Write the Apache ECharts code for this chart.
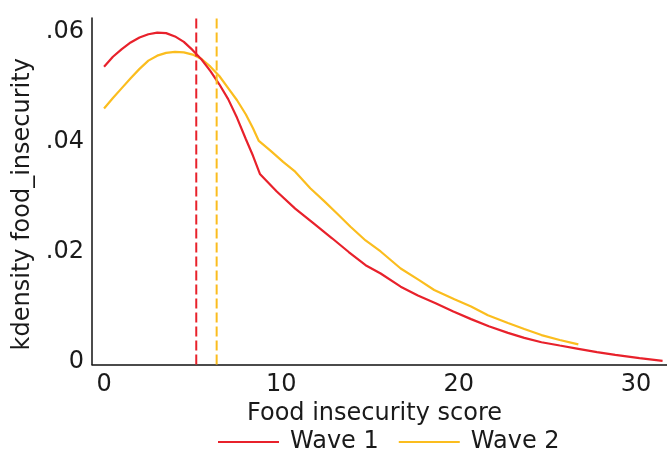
<!DOCTYPE html>
<html><head><meta charset="utf-8">
<script src="https://cdn.jsdelivr.net/npm/echarts@6/dist/echarts.min.js"></script>
<style>html,body{margin:0;padding:0;background:#fff}#c{width:667px;height:452px}</style>
</head><body><div id="c"></div>
<script>
const wave1X = [0, 0.5, 1, 1.5, 2, 2.5, 3, 3.5, 4, 4.5, 5, 5.5, 6, 6.5, 7, 7.5, 8, 8.4, 8.79, 9.74, 10.78, 11.82, 12.86, 13.8, 14.75, 15.6, 16.73, 17.7, 18.7, 19.7, 20.7, 21.7, 22.78, 23.7, 24.67, 25.7, 26.75, 27.8, 28.83, 30.2, 31.5];
const wave1Y = [0.0537, 0.0555, 0.0569, 0.0581, 0.0590, 0.0596, 0.0599, 0.0598, 0.0592, 0.0582, 0.0567, 0.0550, 0.0529, 0.0505, 0.0478, 0.0444, 0.0405, 0.0375, 0.0342, 0.0310, 0.0279, 0.0252, 0.0225, 0.0200, 0.0176, 0.0161, 0.0137, 0.0121, 0.0107, 0.0092, 0.0078, 0.0065, 0.0053, 0.0044, 0.0036, 0.0030, 0.0024, 0.0018, 0.0013, 0.0007, 0.0002];
const wave2X = [0, 0.5, 1, 1.5, 2, 2.5, 3, 3.5, 4, 4.5, 5, 5.5, 6, 6.5, 7, 7.5, 8, 8.4, 8.73, 9.4, 10.1, 10.78, 11.63, 12.4, 13.14, 13.9, 14.75, 15.6, 16.73, 17.77, 18.62, 19.76, 20.7, 21.65, 22.78, 23.7, 24.67, 25.7, 26.75];
const wave2Y = [0.0461, 0.0480, 0.0498, 0.0516, 0.0533, 0.0548, 0.0557, 0.0562, 0.0564, 0.0563, 0.0559, 0.0551, 0.0537, 0.0520, 0.0498, 0.0476, 0.0450, 0.0425, 0.0402, 0.0384, 0.0364, 0.0346, 0.0316, 0.0293, 0.0270, 0.0246, 0.0221, 0.0201, 0.0170, 0.0149, 0.0131, 0.0114, 0.0101, 0.0085, 0.0071, 0.0060, 0.0049, 0.0040, 0.0032];
const meanWave1 = 5.2;
const meanWave2 = 6.35;
const xTicks = [0, 10, 20, 30];
const yTicks = [0, 0.02, 0.04, 0.06];
const yTickLabels = ['0', '.02', '.04', '.06'];
const seriesNames = ['Wave 1', 'Wave 2'];

const RED = '#e8212b', YEL = '#fbbd1e';
const FONT = 'DejaVu Sans';
const TXT = '#1a1a1a';
const zip = (xs, ys) => xs.map((x, i) => [x, ys[i]]);
const yMin = -0.00045, yMax = 0.06255;

const chart = echarts.init(document.getElementById('c'), null, {renderer: 'canvas'});
chart.setOption({
  animation: false,
  backgroundColor: '#fff',
  grid: {left: 92, right: 0, top: 18, bottom: 87.5},
  xAxis: {
    type: 'value', min: -0.68, max: 31.75,
    axisLine: {show: true, onZero: false, lineStyle: {color: '#111', width: 1.5}},
    axisTick: {show: false},
    splitLine: {show: false},
    axisLabel: {customValues: xTicks, color: TXT, fontSize: 24, fontFamily: FONT, margin: 8},
    name: 'Food insecurity score', nameLocation: 'middle', nameGap: 36,
    nameTextStyle: {color: TXT, fontSize: 24, fontFamily: FONT, padding: [0, 10, 0, 0]}
  },
  yAxis: {
    type: 'value', min: yMin, max: yMax,
    axisLine: {show: true, onZero: false, lineStyle: {color: '#111', width: 1.5}},
    axisTick: {show: false},
    splitLine: {show: false},
    axisLabel: {customValues: yTicks, formatter: v => yTickLabels[yTicks.findIndex(t => Math.abs(t - v) < 1e-9)] ?? '', color: TXT, fontSize: 24, fontFamily: FONT, margin: 8},
    name: 'kdensity food_insecurity', nameLocation: 'middle', nameGap: 50,
    nameTextStyle: {color: TXT, fontSize: 24, fontFamily: FONT, padding: [0, 26, 0, 0]}
  },
  legend: {
    data: seriesNames, bottom: -7, left: 213,
    icon: 'rect', itemWidth: 61, itemHeight: 2, itemGap: 20,
    textStyle: {color: TXT, fontSize: 24, fontFamily: FONT, padding: [0, 0, 0, 6]}
  },
  series: [
    {name: seriesNames[0], type: 'line', data: zip(wave1X, wave1Y), showSymbol: false, symbol: 'none', lineStyle: {color: RED, width: 2.2}, itemStyle: {color: RED}, z: 3},
    {name: seriesNames[1], type: 'line', data: zip(wave2X, wave2Y), showSymbol: false, symbol: 'none', lineStyle: {color: YEL, width: 2.2}, itemStyle: {color: YEL}, z: 2},
    {type: 'line', data: [[meanWave1, yMin], [meanWave1, yMax]], showSymbol: false, symbol: 'none', lineStyle: {color: RED, width: 2, type: [10, 4]}, z: 4},
    {type: 'line', data: [[meanWave2, yMin], [meanWave2, yMax]], showSymbol: false, symbol: 'none', lineStyle: {color: YEL, width: 2, type: [10, 4]}, z: 4}
  ]
});
</script></body></html>
